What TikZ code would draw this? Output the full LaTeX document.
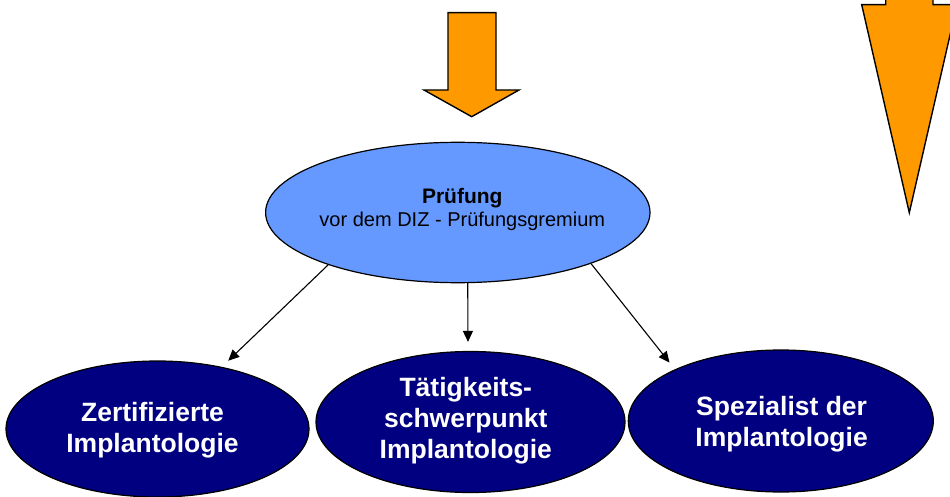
\documentclass[tikz,border=0pt]{standalone}
\usepackage{fontspec}
\setmainfont{Liberation Sans}
\usetikzlibrary{arrows.meta,shapes.geometric}
\definecolor{arrorange}{HTML}{FF9900}
\definecolor{lightblue}{HTML}{6699FF}
\definecolor{navyblue}{HTML}{000080}
\tikzset{
  bigarrow/.style={fill=arrorange,draw=black,line width=1.4pt,line join=miter},
  pruefell/.style={ellipse,draw=black,fill=lightblue,line width=1.2pt,inner sep=0pt},
  darkell/.style={ellipse,draw=black,fill=navyblue,line width=1.2pt,inner sep=0pt},
  bluetext/.style={align=center,inner sep=0pt,font=\fontsize{20pt}{23pt}\selectfont},
  whitetext/.style={align=center,inner sep=0pt,text=white,font=\fontsize{26.5pt}{31pt}\selectfont\bfseries},
  conn/.style={draw=black,line width=1.1pt,-{Triangle[length=11pt,width=10pt]}}
}
\begin{document}
\begin{tikzpicture}[x=1pt,y=-1pt]
\useasboundingbox (0,0) rectangle (950,497);
\clip (0,0) rectangle (950,497);
\fill[white] (0,0) rectangle (950,497);
% top block arrow
\draw[bigarrow] (448,12.7) -- (496,12.7) -- (496,90) -- (519,90) -- (471.7,116.7) -- (424,90) -- (448,90) -- cycle;
% right block arrow (cut by the border)
\draw[bigarrow] (885.7,-10) -- (885.7,4.7) -- (861.7,4.7) -- (909.3,212.7) -- (957,4.7) -- (933,4.7) -- (933,-10);
% nodes
\node[pruefell,minimum width=384.4pt,minimum height=140.4pt] (pruef) at (457.8,212.5) {};
\node[bluetext] (prueftext) at (462.3,209.9) {{\fontsize{21pt}{23pt}\selectfont\bfseries Prüfung}\\vor dem DIZ - Prüfungsgremium};
\node[darkell,minimum width=303pt,minimum height=136pt] (zert) at (157.5,429) {};
\node[whitetext] (zerttext) at (152.5,430.3) {Zertifizierte\\Implantologie};
\node[darkell,minimum width=309pt,minimum height=141pt] (taet) at (470.5,422) {};
\node[whitetext] (taettext) at (465.8,420.85) {Tätigkeits-\\schwerpunkt\\Implantologie};
\node[darkell,minimum width=305pt,minimum height=142pt] (spez) at (780.8,421) {};
\node[whitetext] (speztext) at (781.6,424.65) {Spezialist der\\Implantologie};
% connectors
\draw[conn,shorten >=8.8pt] (pruef.-158.7) -- (zert.44.5);
\draw[conn,shorten >=9pt] (pruef.-82) -- (taet.92.3);
\draw[conn,shorten >=8.6pt] (pruef.-21.3) -- (spez.154);
\end{tikzpicture}
\end{document}
